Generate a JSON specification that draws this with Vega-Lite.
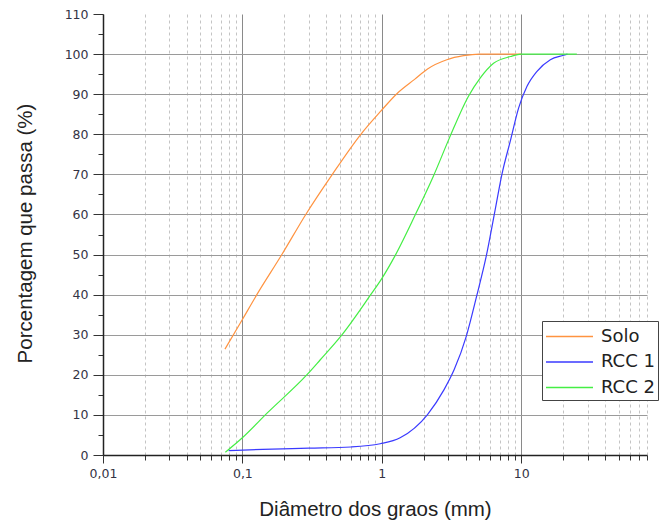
{
  "$schema": "https://vega.github.io/schema/vega-lite/v6.json",
  "width": 544,
  "height": 441,
  "autosize": {"type": "none"},
  "padding": {"left": 103, "top": 14, "right": 12, "bottom": 67},
  "background": "white",
  "config": {
    "view": {"stroke": null},
    "font": "DejaVu Sans"
  },
  "data": {
    "values": [
      {"d": 0.075, "p": 26.4, "s": "Solo"},
      {"d": 0.1, "p": 33.8, "s": "Solo"},
      {"d": 0.127, "p": 40, "s": "Solo"},
      {"d": 0.192, "p": 50, "s": "Solo"},
      {"d": 0.285, "p": 60, "s": "Solo"},
      {"d": 0.442, "p": 70, "s": "Solo"},
      {"d": 0.708, "p": 80, "s": "Solo"},
      {"d": 0.98, "p": 85.7, "s": "Solo"},
      {"d": 1.3, "p": 90.3, "s": "Solo"},
      {"d": 1.72, "p": 93.7, "s": "Solo"},
      {"d": 2.13, "p": 96.3, "s": "Solo"},
      {"d": 2.93, "p": 98.6, "s": "Solo"},
      {"d": 3.86, "p": 99.6, "s": "Solo"},
      {"d": 5, "p": 100, "s": "Solo"},
      {"d": 10, "p": 100, "s": "Solo"},
      {"d": 0.0797, "p": 1.1, "s": "RCC 1"},
      {"d": 0.14, "p": 1.4, "s": "RCC 1"},
      {"d": 0.3, "p": 1.7, "s": "RCC 1"},
      {"d": 0.6, "p": 2.0, "s": "RCC 1"},
      {"d": 0.974, "p": 2.8, "s": "RCC 1"},
      {"d": 1.355, "p": 4.3, "s": "RCC 1"},
      {"d": 2.13, "p": 10.1, "s": "RCC 1"},
      {"d": 2.8, "p": 16.3, "s": "RCC 1"},
      {"d": 3.31, "p": 21.3, "s": "RCC 1"},
      {"d": 4.04, "p": 29.6, "s": "RCC 1"},
      {"d": 4.81, "p": 39.8, "s": "RCC 1"},
      {"d": 5.63, "p": 49.7, "s": "RCC 1"},
      {"d": 6.5, "p": 61, "s": "RCC 1"},
      {"d": 7.28, "p": 70, "s": "RCC 1"},
      {"d": 8.36, "p": 78.3, "s": "RCC 1"},
      {"d": 9.6, "p": 86.6, "s": "RCC 1"},
      {"d": 11.0, "p": 91.9, "s": "RCC 1"},
      {"d": 13.0, "p": 95.7, "s": "RCC 1"},
      {"d": 16.2, "p": 98.6, "s": "RCC 1"},
      {"d": 20.2, "p": 99.7, "s": "RCC 1"},
      {"d": 21.5, "p": 100, "s": "RCC 1"},
      {"d": 0.0755, "p": 0.7, "s": "RCC 2"},
      {"d": 0.1, "p": 4.3, "s": "RCC 2"},
      {"d": 0.151, "p": 10.5, "s": "RCC 2"},
      {"d": 0.292, "p": 20.1, "s": "RCC 2"},
      {"d": 0.361, "p": 23.7, "s": "RCC 2"},
      {"d": 0.516, "p": 29.9, "s": "RCC 2"},
      {"d": 0.826, "p": 39.8, "s": "RCC 2"},
      {"d": 1.0, "p": 44.0, "s": "RCC 2"},
      {"d": 1.25, "p": 49.8, "s": "RCC 2"},
      {"d": 1.74, "p": 59.9, "s": "RCC 2"},
      {"d": 2.35, "p": 69.6, "s": "RCC 2"},
      {"d": 3.06, "p": 79.1, "s": "RCC 2"},
      {"d": 4.19, "p": 89.5, "s": "RCC 2"},
      {"d": 5.08, "p": 94, "s": "RCC 2"},
      {"d": 6.34, "p": 97.7, "s": "RCC 2"},
      {"d": 8.4, "p": 99.4, "s": "RCC 2"},
      {"d": 10, "p": 100, "s": "RCC 2"},
      {"d": 25.1, "p": 100, "s": "RCC 2"}
    ]
  },
  "mark": {"type": "line", "interpolate": "monotone", "strokeWidth": 1.2, "clip": true},
  "encoding": {
    "x": {
      "field": "d",
      "type": "quantitative",
      "scale": {"type": "log", "domain": [0.01, 80], "nice": false},
      "axis": {
        "title": "Diâmetro dos graos (mm)",
        "titleFont": "Liberation Sans",
        "titleFontSize": 20.5,
        "titleFontWeight": "normal",
        "titleColor": "#222",
        "titleY": 54,
        "titleBaseline": "middle",
        "values": [0.01,0.02,0.03,0.04,0.05,0.06,0.07,0.08,0.09,0.1,0.2,0.3,0.4,0.5,0.6,0.7,0.8,0.9,1,2,3,4,5,6,7,8,9,10,20,30,40,50,60,70,80],
        "labelExpr": "abs(log(datum.value)/LN10 - round(log(datum.value)/LN10)) < 0.0001 ? replace(format(datum.value, ''), '.', ',') : ''",
        "labelOverlap": false,
        "labelFlush": false,
        "labelBound": false,
        "labelFont": "DejaVu Sans",
        "labelFontSize": 12.5,
        "labelColor": "#333344",
        "labelPadding": 4,
        "domainColor": "#222",
        "domainWidth": 1.5,
        "tickColor": "#333",
        "tickWidth": 1,
        "tickSize": {"condition": {"test": "abs(log(datum.value)/LN10 - round(log(datum.value)/LN10)) < 0.0001", "value": 8}, "value": 5},
        "grid": true,
        "gridColor": {"condition": {"test": "abs(log(datum.value)/LN10 - round(log(datum.value)/LN10)) < 0.0001", "value": "#8a8a8a"}, "value": "#c4c4c4"},
        "gridDash": {"condition": {"test": "abs(log(datum.value)/LN10 - round(log(datum.value)/LN10)) < 0.0001", "value": []}, "value": [3, 3]},
        "gridWidth": 1
      }
    },
    "y": {
      "field": "p",
      "type": "quantitative",
      "scale": {"domain": [0, 110], "nice": false},
      "axis": {
        "title": "Porcentagem que passa (%)",
        "titleFont": "Liberation Sans",
        "titleFontSize": 20.5,
        "titleFontWeight": "normal",
        "titleColor": "#222",
        "titleX": -78,
        "titleY": 219,
        "titleAngle": -90,
        "titleAlign": "center",
        "titleBaseline": "middle",
        "values": [0,5,10,15,20,25,30,35,40,45,50,55,60,65,70,75,80,85,90,95,100,105,110],
        "labelExpr": "datum.value % 10 == 0 ? datum.value : ''",
        "labelOverlap": false,
        "labelFlush": false,
        "labelBound": false,
        "labelFont": "DejaVu Sans",
        "labelFontSize": 12.5,
        "labelColor": "#333344",
        "labelPadding": 5,
        "domainColor": "#222",
        "domainWidth": 1.5,
        "tickColor": "#333",
        "tickSize": {"condition": {"test": "datum.value % 10 == 0", "value": 10}, "value": 5},
        "grid": true,
        "gridColor": "#9a9a9a",
        "gridWidth": 1.2,
        "gridOpacity": {"condition": {"test": "datum.value % 10 == 0 && datum.value > 0 && datum.value < 110", "value": 1}, "value": 0}
      }
    },
    "color": {
      "field": "s",
      "type": "nominal",
      "scale": {"domain": ["Solo", "RCC 1", "RCC 2"], "range": ["#FF9340", "#3A3AFF", "#44EE44"]},
      "legend": {
        "title": null,
        "orient": "none",
        "legendX": 439,
        "legendY": 307,
        "symbolType": "M-2,0H2",
        "symbolSize": 552,
        "symbolStrokeWidth": 1.5,
        "symbolOffset": 12,
        "rowPadding": 3.5,
        "padding": 3,
        "labelFont": "DejaVu Sans",
        "labelFontSize": 18,
        "labelColor": "#222",
        "labelOffset": 19,
        "strokeColor": "#444",
        "fillColor": "white",
        "labelLimit": 300
      }
    }
  }
}
